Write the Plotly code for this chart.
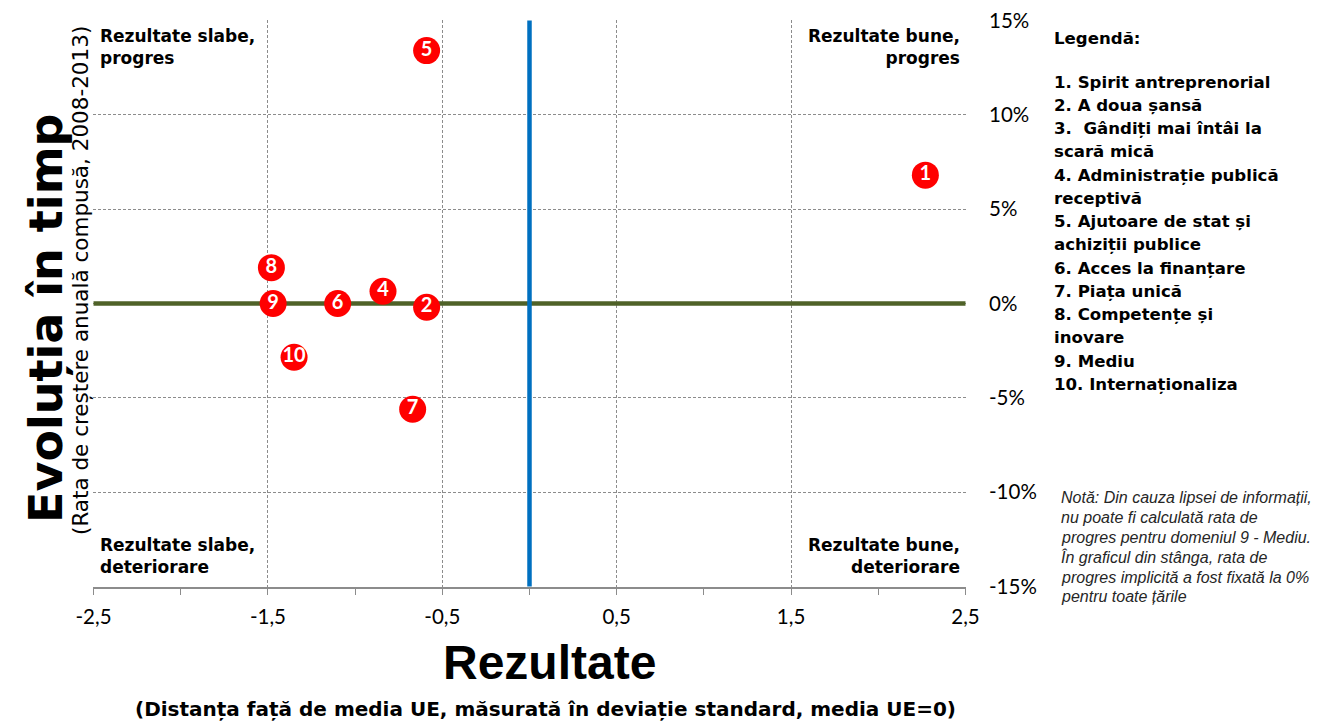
import plotly.graph_objects as go

# ---- data ----
ids = ["1", "2", "4", "5", "6", "7", "8", "9", "10"]
rezultate = [2.27, -0.59, -0.84, -0.59, -1.10, -0.67, -1.48, -1.47, -1.35]
evolutie = [6.8, -0.2, 0.65, 13.4, 0.0, -5.6, 1.9, 0.0, -2.85]

x_ticks = [-2.5, -1.5, -0.5, 0.5, 1.5, 2.5]
x_ticktext = ["-2,5", "-1,5", "-0,5", "0,5", "1,5", "2,5"]
y_ticks = [15, 10, 5, 0, -5, -10, -15]
y_ticktext = ["15%", "10%", "5%", "0%", "-5%", "-10%", "-15%"]

h_line_x = [-2.5, 2.5]
h_line_y = [0, 0]
v_line_x = [0, 0]
v_line_y = [-15, 15]

legend_title = "Legendă:"
legend_lines = [
    "1. Spirit antreprenorial",
    "2. A doua șansă",
    "3.  Gândiți mai întâi la",
    "scară mică",
    "4. Administrație publică",
    "receptivă",
    "5. Ajutoare de stat și",
    "achiziții publice",
    "6. Acces la finanțare",
    "7. Piața unică",
    "8. Competențe și",
    "inovare",
    "9. Mediu",
    "10. Internaționaliza",
]
note_lines = [
    "Notă: Din cauza lipsei de informații,",
    "nu poate fi calculată rata de",
    "progres pentru domeniul 9 - Mediu.",
    "În graficul din stânga, rata de",
    "progres implicită a fost fixată la 0%",
    "pentru toate țările",
]

# ---- layout geometry (pixels, screenshot coordinates) ----
OFF = 8  # page body margin
W, H = 1327, 725
L, R, T, B = 93, 966, 20, 587
PW, PH = R - L, B - T


def px(xp):
    return (xp - L) / PW


def py(yp):
    return (B - yp) / PH


ARIAL = "Liberation Sans, Arial, sans-serif"
WIDE = "DejaVu Sans, Verdana, sans-serif"
CALIBRI = "Lato, Carlito, Calibri, sans-serif"
GRID = "#8c8c8c"

fig = go.Figure()
fig.add_trace(go.Scatter(x=h_line_x, y=h_line_y, mode="lines",
                         line=dict(color="#4F6228", width=4.5),
                         hoverinfo="skip", showlegend=False))
fig.add_trace(go.Scatter(x=v_line_x, y=v_line_y, mode="lines",
                         line=dict(color="#0070C0", width=4.5),
                         hoverinfo="skip", showlegend=False))
fig.add_trace(go.Scatter(
    x=rezultate, y=evolutie, mode="markers+text", text=ids,
    textposition="middle center",
    textfont=dict(family=CALIBRI, size=20, color="white", weight="bold"),
    marker=dict(size=27, color="#FF0000", line=dict(width=0)),
    showlegend=False))

fig.update_layout(
    width=W, height=H,
    margin=dict(l=L - OFF, r=W - R + OFF, t=T - OFF, b=H - B + OFF, autoexpand=False),
    paper_bgcolor="white", plot_bgcolor="white",
    font=dict(family=ARIAL, color="black"),
    showlegend=False,
)
fig.update_xaxes(
    range=[-2.503, 2.503], tickvals=x_ticks, ticktext=x_ticktext,
    showgrid=True, gridcolor=GRID, griddash="3px,2px", gridwidth=1,
    zeroline=False, showline=True, linecolor=GRID, linewidth=1.5,
    ticks="outside", ticklen=6, tickcolor=GRID,
    minor=dict(dtick=0.5, tick0=0, ticks="outside", ticklen=6, tickcolor=GRID, showgrid=False),
    tickfont=dict(family=CALIBRI, size=20.5, color="black"),
    ticklabelstandoff=5, ticklabeloverflow="allow", automargin=False,
)
fig.update_yaxes(
    range=[-15.02, 15.02], tickvals=y_ticks, ticktext=y_ticktext, side="right",
    showgrid=True, gridcolor=GRID, griddash="3px,2px", gridwidth=1,
    zeroline=False, showline=False, ticks="",
    tickfont=dict(family=CALIBRI, size=20.5, color="black"),
    ticklabelstandoff=22, ticklabeloverflow="allow", automargin=False,
)

ann = []
q_font = dict(family=WIDE, size=17, color="black", weight="bold")
ann.append(dict(text="Rezultate slabe,<br>progres", x=px(98), y=py(24), xanchor="left", yanchor="top", align="left", font=q_font))
ann.append(dict(text="Rezultate bune,<br>progres", x=px(962), y=py(24), xanchor="right", yanchor="top", align="right", font=q_font))
ann.append(dict(text="Rezultate slabe,<br>deteriorare", x=px(98), y=py(579), xanchor="left", yanchor="bottom", align="left", font=q_font))
ann.append(dict(text="Rezultate bune,<br>deteriorare", x=px(962), y=py(579), xanchor="right", yanchor="bottom", align="right", font=q_font))

ann.append(dict(text="Rezultate", x=px(549), y=py(662), xanchor="center", yanchor="middle",
                font=dict(family=ARIAL, size=48, color="black", weight="bold")))
ann.append(dict(text="(Distanța față de media UE, măsurată în deviație standard, media UE=0)",
                x=px(545), y=py(709), xanchor="center", yanchor="middle",
                font=dict(family=WIDE, size=20, color="black", weight="bold")))
ann.append(dict(text="Evoluția în timp", x=px(46), y=py(318), xanchor="center", yanchor="middle",
                textangle=-90, font=dict(family=WIDE, size=46, color="black", weight="bold")))
ann.append(dict(text="(Rata de creștere anuală compusă, 2008-2013)", x=px(80), y=py(281),
                xanchor="center", yanchor="middle", textangle=-90,
                font=dict(family=WIDE, size=21.5, color="black")))

leg_font = dict(family=WIDE, size=16.6, color="black", weight="bold")
ann.append(dict(text=legend_title, x=px(1052), y=py(38), xanchor="left", yanchor="middle",
                align="left", font=leg_font))
for i, line in enumerate(legend_lines):
    ann.append(dict(text=line, x=px(1052), y=py(82 + i * 23.25), xanchor="left", yanchor="middle",
                    align="left", font=leg_font))

note_font = dict(family=ARIAL, size=16, color="#262626", style="italic")
for i, line in enumerate(note_lines):
    ann.append(dict(text=line, x=px(1059), y=py(497 + i * 20), xanchor="left", yanchor="middle",
                    align="left", font=note_font))

for a in ann:
    a.update(xref="paper", yref="paper", showarrow=False)
fig.update_layout(annotations=ann)

fig.write_html("out.html")
